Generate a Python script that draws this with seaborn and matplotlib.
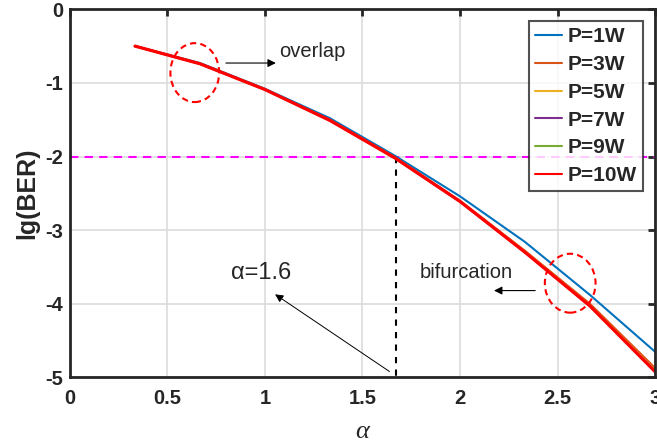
import numpy as np
import pandas as pd
import matplotlib
matplotlib.use('Agg')
import matplotlib.pyplot as plt
from matplotlib.patches import Ellipse
import seaborn as sns

# alpha values and lg(BER) per transmit power
alpha = [1/3, 2/3, 1.0, 4/3, 5/3, 2.0, 7/3, 8/3, 3.0]
ber_1w = [-0.50, -0.73, -1.08, -1.48, -1.99, -2.54, -3.16, -3.88, -4.65]
ber_3w = [-0.50, -0.74, -1.09, -1.50, -2.01, -2.60, -3.28, -4.00, -4.87]
ber_5w = [-0.50, -0.74, -1.09, -1.51, -2.02, -2.61, -3.29, -4.02, -4.90]
ber_7w = [-0.50, -0.74, -1.09, -1.51, -2.02, -2.61, -3.30, -4.03, -4.91]
ber_9w = [-0.50, -0.74, -1.09, -1.51, -2.02, -2.61, -3.30, -4.03, -4.92]
ber_10w = [-0.50, -0.74, -1.09, -1.51, -2.02, -2.61, -3.30, -4.03, -4.92]

labels = ['P=1W', 'P=3W', 'P=5W', 'P=7W', 'P=9W', 'P=10W']
series = [ber_1w, ber_3w, ber_5w, ber_7w, ber_9w, ber_10w]
colors = ['#0072BD', '#D95319', '#EDB120', '#7E2F8E', '#77AC30', '#FF0000']

sns.set_style('white')
plt.rcParams['font.family'] = ['Liberation Sans', 'DejaVu Sans']

fig, ax = plt.subplots(figsize=(6.57, 4.42), dpi=100)
fig.subplots_adjust(left=0.1065, right=0.997, top=0.979, bottom=0.146)

for lab, vals, col in zip(labels, series, colors):
    lw = 2.3 if lab == 'P=10W' else 1.5
    sns.lineplot(x=alpha, y=vals, color=col, lw=lw, label=lab, ax=ax)

# threshold and alpha marker
ax.axhline(-2, color='#FF00FF', ls=(0, (4, 3)), lw=1.5, zorder=1)
ax.plot([1.67, 1.67], [-2, -5], color='black', ls=(0, (3, 3)), lw=1.5, zorder=1)

# annotations
ax.add_patch(Ellipse((0.64, -0.86), 0.25, 0.80, fill=False, ec='red',
                     ls=(0, (3, 2)), lw=1.5, zorder=5))
ax.add_patch(Ellipse((2.565, -3.72), 0.26, 0.80, fill=False, ec='red',
                     ls=(0, (3, 2)), lw=1.5, zorder=5))
ax.annotate('', xy=(1.07, -0.73), xytext=(0.785, -0.73),
            arrowprops=dict(arrowstyle='-|>', color='black', lw=0.8, mutation_scale=12))
ax.text(1.075, -0.57, 'overlap', fontsize=14.5, va='center', ha='left')
ax.annotate('', xy=(2.16, -3.82), xytext=(2.40, -3.82),
            arrowprops=dict(arrowstyle='-|>', color='black', lw=0.8, mutation_scale=12))
ax.text(2.03, -3.57, 'bifurcation', fontsize=14.5, va='center', ha='center')
ax.annotate('', xy=(1.04, -3.85), xytext=(1.65, -4.94),
            arrowprops=dict(arrowstyle='-|>', color='black', lw=0.7, mutation_scale=12))
ax.text(0.98, -3.58, 'α=1.6', fontsize=17, va='center', ha='center')

ax.set_xlim(0, 3)
ax.set_ylim(-5, 0)
ax.set_xticks(np.arange(0, 3.01, 0.5))
ax.set_xticklabels(['0', '0.5', '1', '1.5', '2', '2.5', '3'])
ax.set_yticks(np.arange(-5, 0.1, 1))
ax.set_yticklabels(['-5', '-4', '-3', '-2', '-1', '0'])
ax.grid(True, color='#DCDCDC', lw=1.2)
ax.set_axisbelow(True)

for sp in ax.spines.values():
    sp.set_color('#262626')
    sp.set_linewidth(2)
ax.tick_params(direction='in', length=5, width=2, color='#262626',
               top=True, right=True, labelsize=14.5, labelcolor='#262626')
ax.tick_params(axis='x', pad=8)
ax.tick_params(axis='y', pad=5)
for t in ax.get_xticklabels() + ax.get_yticklabels():
    t.set_fontweight('bold')

ax.set_ylabel('lg(BER)', fontsize=18, fontweight='bold', color='#262626', labelpad=4)
ax.set_xlabel('α', fontsize=19, fontstyle='italic', family='Liberation Serif', labelpad=10)

leg = ax.legend(loc='upper right', bbox_to_anchor=(0.9795, 0.968), frameon=True,
                fancybox=False, edgecolor='#262626', handlelength=1.3,
                handletextpad=0.25, borderpad=0.3, labelspacing=0.42,
                borderaxespad=0, prop={'weight': 'bold', 'size': 15})
leg.get_frame().set_linewidth(1.5)
for h in leg.get_lines():
    h.set_linewidth(1.5)

plt.savefig('out.png', dpi=100)
